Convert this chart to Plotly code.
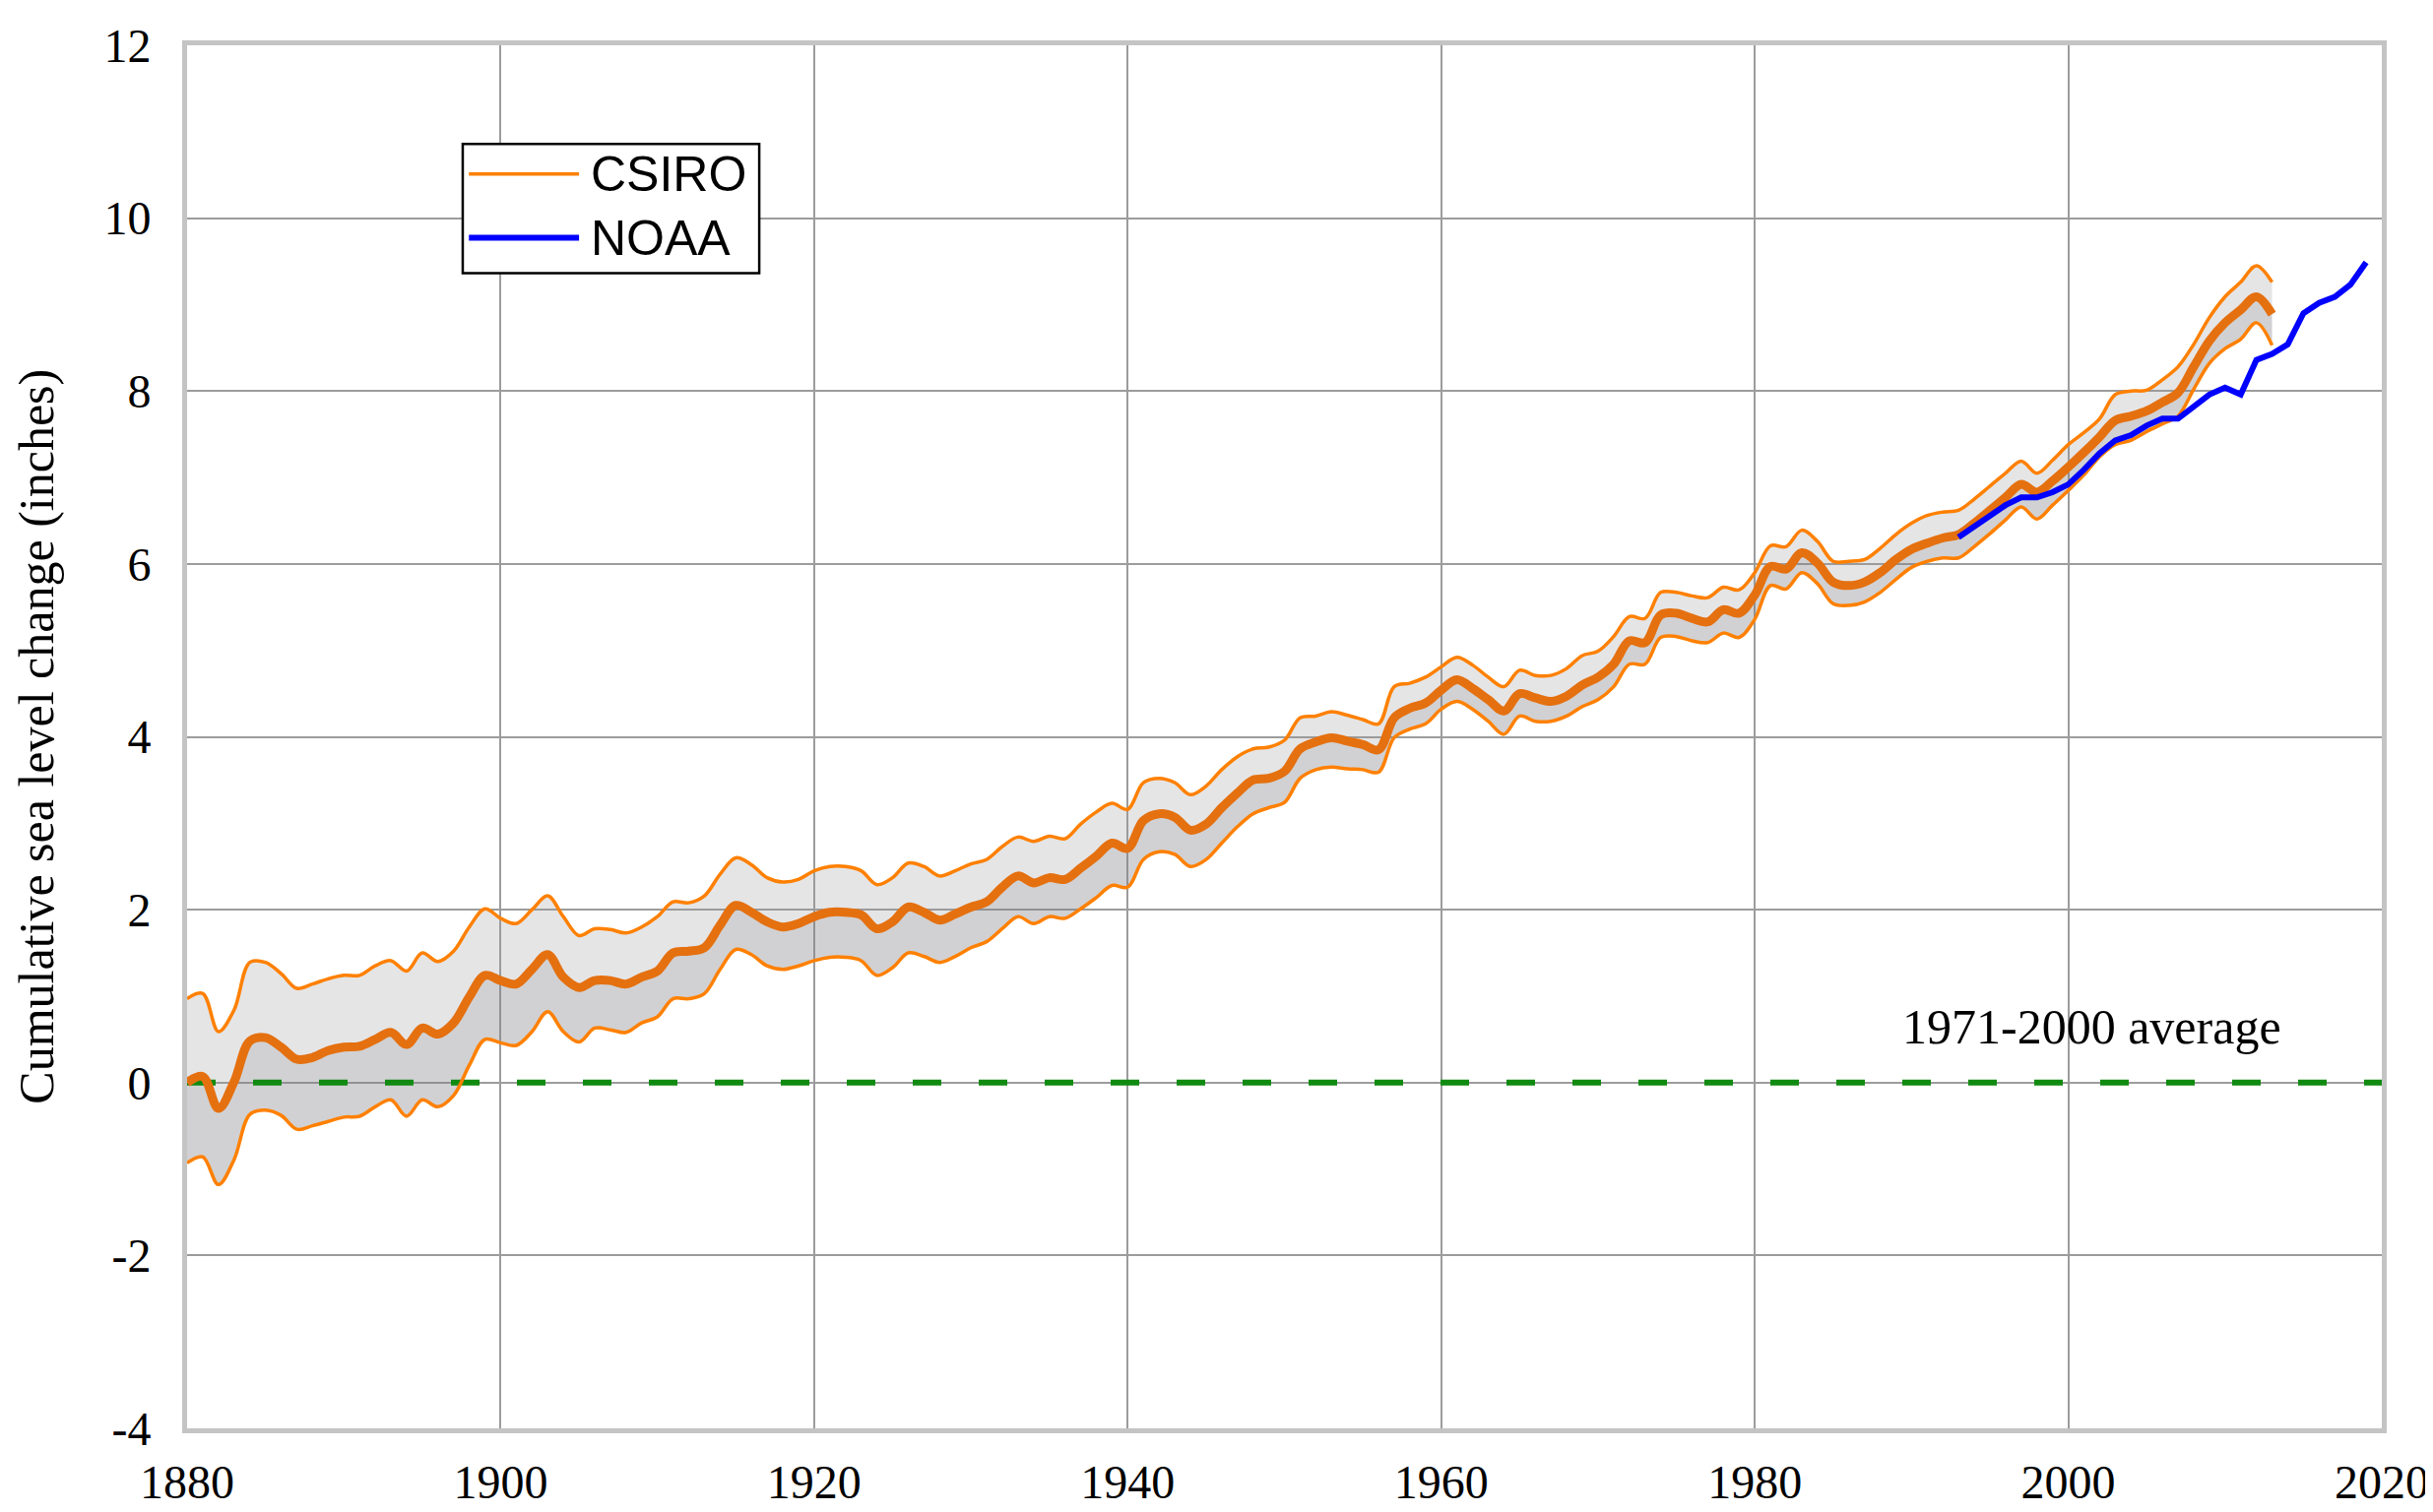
import plotly.graph_objects as go

years = list(range(1880, 2014))

csiro = [0.00, 0.07, -0.30, 0.01, 0.48, 0.52, 0.41, 0.27, 0.29, 0.37,
         0.41, 0.42, 0.50, 0.58, 0.44, 0.63, 0.56, 0.69, 0.99, 1.24,
         1.18, 1.14, 1.31, 1.48, 1.22, 1.10, 1.18, 1.18, 1.14, 1.22,
         1.29, 1.50, 1.52, 1.56, 1.82, 2.05, 1.97, 1.86, 1.80, 1.84,
         1.92, 1.97, 1.97, 1.94, 1.78, 1.86, 2.03, 1.97, 1.88, 1.95,
         2.03, 2.09, 2.26, 2.39, 2.31, 2.37, 2.35, 2.48, 2.62, 2.77,
         2.71, 3.03, 3.11, 3.07, 2.92, 2.99, 3.18, 3.35, 3.50, 3.52,
         3.60, 3.86, 3.94, 3.99, 3.95, 3.91, 3.85, 4.22, 4.33, 4.39,
         4.54, 4.66, 4.56, 4.43, 4.30, 4.50, 4.45, 4.41, 4.47, 4.60,
         4.69, 4.84, 5.11, 5.09, 5.41, 5.43, 5.37, 5.33, 5.47, 5.43,
         5.64, 5.97, 5.94, 6.13, 6.01, 5.79, 5.75, 5.79, 5.90, 6.05,
         6.17, 6.24, 6.30, 6.34, 6.47, 6.62, 6.77, 6.92, 6.83, 6.96,
         7.12, 7.29, 7.47, 7.66, 7.71, 7.77, 7.87, 7.98, 8.28, 8.58,
         8.79, 8.94, 9.09, 8.89]

csiro_upper = [0.97, 1.03, 0.59, 0.84, 1.39, 1.39, 1.26, 1.09, 1.14, 1.20,
               1.24, 1.24, 1.35, 1.41, 1.29, 1.50, 1.40, 1.52, 1.80, 2.01,
               1.90, 1.84, 2.00, 2.16, 1.92, 1.70, 1.78, 1.77, 1.73, 1.80,
               1.92, 2.09, 2.08, 2.16, 2.41, 2.60, 2.52, 2.37, 2.32, 2.35,
               2.45, 2.50, 2.50, 2.45, 2.29, 2.37, 2.54, 2.50, 2.39, 2.45,
               2.53, 2.58, 2.73, 2.84, 2.79, 2.85, 2.82, 2.99, 3.13, 3.23,
               3.16, 3.47, 3.52, 3.47, 3.33, 3.43, 3.62, 3.77, 3.86, 3.88,
               3.96, 4.22, 4.24, 4.29, 4.25, 4.20, 4.15, 4.58, 4.62, 4.69,
               4.81, 4.92, 4.83, 4.69, 4.58, 4.77, 4.71, 4.71, 4.79, 4.94,
               4.99, 5.16, 5.39, 5.37, 5.67, 5.67, 5.63, 5.61, 5.73, 5.70,
               5.90, 6.21, 6.20, 6.39, 6.26, 6.03, 6.03, 6.05, 6.18, 6.34,
               6.47, 6.56, 6.60, 6.62, 6.75, 6.90, 7.05, 7.19, 7.05, 7.20,
               7.38, 7.52, 7.68, 7.96, 8.00, 8.01, 8.13, 8.28, 8.54, 8.85,
               9.09, 9.26, 9.45, 9.26]

csiro_lower = [-0.93, -0.86, -1.18, -0.89, -0.37, -0.32, -0.38, -0.54, -0.50, -0.45,
               -0.40, -0.39, -0.28, -0.20, -0.39, -0.20, -0.28, -0.15, 0.20, 0.50,
               0.46, 0.43, 0.59, 0.82, 0.59, 0.47, 0.63, 0.61, 0.58, 0.69,
               0.76, 0.97, 0.97, 1.03, 1.31, 1.54, 1.48, 1.35, 1.31, 1.35,
               1.41, 1.45, 1.45, 1.41, 1.24, 1.33, 1.50, 1.46, 1.39, 1.46,
               1.56, 1.63, 1.78, 1.92, 1.84, 1.92, 1.90, 2.01, 2.14, 2.28,
               2.26, 2.58, 2.67, 2.64, 2.50, 2.58, 2.77, 2.96, 3.11, 3.18,
               3.24, 3.52, 3.62, 3.65, 3.63, 3.62, 3.59, 3.99, 4.09, 4.15,
               4.32, 4.41, 4.32, 4.18, 4.03, 4.24, 4.18, 4.18, 4.24, 4.35,
               4.43, 4.58, 4.84, 4.84, 5.15, 5.16, 5.11, 5.09, 5.20, 5.15,
               5.36, 5.75, 5.71, 5.90, 5.77, 5.54, 5.52, 5.56, 5.67, 5.82,
               5.96, 6.03, 6.07, 6.07, 6.20, 6.35, 6.51, 6.66, 6.52, 6.68,
               6.85, 7.03, 7.24, 7.38, 7.43, 7.53, 7.62, 7.71, 8.02, 8.32,
               8.49, 8.60, 8.79, 8.53]

noaa_years = list(range(1993, 2020))
noaa = [6.31, 6.43, 6.56, 6.68, 6.77, 6.77, 6.83, 6.92, 7.09, 7.28,
        7.43, 7.49, 7.60, 7.68, 7.68, 7.83, 7.96, 8.04, 7.96, 8.36,
        8.43, 8.54, 8.90, 9.02, 9.09, 9.23, 9.49]

baseline_years = [1880, 2020]
baseline = [0, 0]

x_ticks = [1880, 1900, 1920, 1940, 1960, 1980, 2000, 2020]
y_ticks = [-4, -2, 0, 2, 4, 6, 8, 10, 12]

ORANGE_DARK = "#E5700F"
ORANGE = "#FF8000"
BLUE = "#0000FF"
GREEN = "#118A11"
SMOOTH = 1.0

fig = go.Figure()

# band fills (no visible lines)
fig.add_trace(go.Scatter(x=years, y=csiro_lower, mode="lines",
                         line=dict(width=0, shape="spline", smoothing=SMOOTH),
                         showlegend=False, hoverinfo="skip"))
fig.add_trace(go.Scatter(x=years, y=csiro, mode="lines", fill="tonexty",
                         fillcolor="rgba(130,130,135,0.37)",
                         line=dict(width=0, shape="spline", smoothing=SMOOTH),
                         showlegend=False, hoverinfo="skip"))
fig.add_trace(go.Scatter(x=years, y=csiro_upper, mode="lines", fill="tonexty",
                         fillcolor="rgba(150,150,155,0.25)",
                         line=dict(width=0, shape="spline", smoothing=SMOOTH),
                         showlegend=False, hoverinfo="skip"))

# 1971-2000 average baseline
fig.add_trace(go.Scatter(x=baseline_years, y=baseline, mode="lines",
                         line=dict(color=GREEN, width=6, dash="29px,38px"),
                         showlegend=False))

# bounds and center line
fig.add_trace(go.Scatter(x=years, y=csiro_lower, mode="lines",
                         line=dict(color=ORANGE, width=3.5, shape="spline", smoothing=SMOOTH),
                         showlegend=False))
fig.add_trace(go.Scatter(x=years, y=csiro_upper, mode="lines",
                         line=dict(color=ORANGE, width=3.5, shape="spline", smoothing=SMOOTH),
                         showlegend=False))
fig.add_trace(go.Scatter(x=years, y=csiro, mode="lines", name="CSIRO",
                         line=dict(color=ORANGE_DARK, width=9, shape="spline", smoothing=SMOOTH),
                         showlegend=False))
fig.add_trace(go.Scatter(x=noaa_years, y=noaa, mode="lines", name="NOAA",
                         line=dict(color=BLUE, width=6),
                         showlegend=False))

axis_common = dict(showgrid=True, gridcolor="#9c9c9c", gridwidth=2,
                   showline=True, mirror=True, linecolor="#c4c4c4", linewidth=5,
                   zeroline=False, ticks="",
                   tickfont=dict(family="Liberation Serif", size=48, color="black"))

fig.update_layout(
    width=2471, height=1536, autosize=False,
    margin=dict(l=182, r=59, t=38, b=86),
    paper_bgcolor="white", plot_bgcolor="white",
    xaxis=dict(range=[1880, 2020], tickvals=x_ticks,
               ticktext=[str(v) for v in x_ticks], ticklabelstandoff=8,
               **axis_common),
    yaxis=dict(range=[-4, 12], tickvals=y_ticks,
               ticktext=[str(v) for v in y_ticks], ticklabelstandoff=22,
               **axis_common),
    showlegend=False,
)

# y-axis title
fig.add_annotation(text="Cumulative sea level change (inches)",
                   xref="paper", yref="paper", x=-0.069, y=0.5,
                   xanchor="center", yanchor="middle", textangle=-90,
                   showarrow=False,
                   font=dict(family="Liberation Serif", size=50, color="black"))

# baseline label
fig.add_annotation(text="1971-2000 average", xref="paper", yref="y",
                   x=0.7807, y=0.65, xanchor="left", yanchor="middle",
                   showarrow=False,
                   font=dict(family="Liberation Serif", size=50, color="black"))

# custom legend
fig.add_shape(type="rect", xref="paper", yref="paper",
              x0=0.1256, x1=0.2607, y0=0.8352, y1=0.9287,
              line=dict(color="black", width=2.5), fillcolor="white", layer="above")
fig.add_shape(type="line", xref="paper", yref="paper",
              x0=0.1284, x1=0.1786, y0=0.9069, y1=0.9069,
              line=dict(color=ORANGE, width=3.5), layer="above")
fig.add_shape(type="line", xref="paper", yref="paper",
              x0=0.1284, x1=0.1786, y0=0.8608, y1=0.8608,
              line=dict(color=BLUE, width=6), layer="above")
fig.add_annotation(text="CSIRO", xref="paper", yref="paper",
                   x=0.1830, y=0.9069, xanchor="left", yanchor="middle",
                   showarrow=False,
                   font=dict(family="Liberation Sans", size=50, color="black"))
fig.add_annotation(text="NOAA", xref="paper", yref="paper",
                   x=0.1830, y=0.8608, xanchor="left", yanchor="middle",
                   showarrow=False,
                   font=dict(family="Liberation Sans", size=50, color="black"))

fig.write_html("out.html")
